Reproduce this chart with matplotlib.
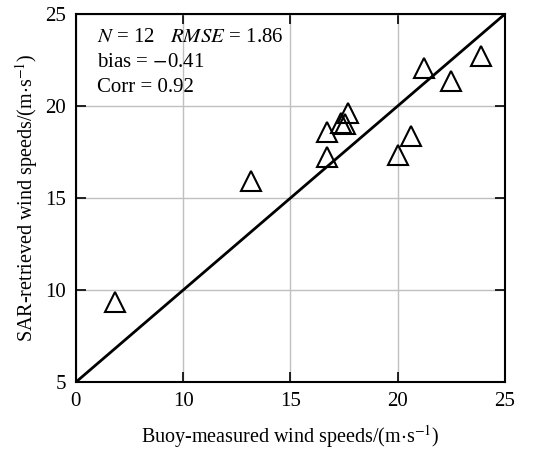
import matplotlib.pyplot as plt

plt.rcParams['font.family'] = ['Liberation Serif', 'DejaVu Serif']
plt.rcParams['mathtext.fontset'] = 'stix'

# buoy vs SAR wind speeds (m/s)
buoy = [6.82, 13.14, 16.69, 16.69, 17.34, 17.54, 17.70, 20.03, 20.60, 21.22, 22.47, 23.87]
sar = [9.33, 15.93, 17.25, 18.57, 19.06, 19.03, 19.60, 17.31, 18.38, 22.05, 21.33, 22.72]

xticks = [5, 10, 15, 20, 25]
xtick_labels = ['0', '10', '15', '20', '25']
yticks = [5, 10, 15, 20, 25]

fig = plt.figure(figsize=(5.46, 4.49), dpi=100)
ax = fig.add_axes([0.139, 0.149, 0.786, 0.82])

ax.plot([5, 25], [5, 25], color='black', linewidth=2, zorder=2)
ax.plot(buoy, sar, linestyle='none', marker='^', markersize=14,
        markerfacecolor='none', markeredgecolor='black', markeredgewidth=1.5, zorder=3)

ax.set_xlim(5, 25)
ax.set_ylim(5, 25)
ax.set_xticks(xticks)
ax.set_xticklabels(xtick_labels)
ax.set_yticks(yticks)
ax.tick_params(direction='in', top=True, right=True, labelsize=15, length=7, width=1.2, pad=7)
ax.grid(True, color='#c0c0c0', linewidth=1)
ax.set_axisbelow(True)
for s in ax.spines.values():
    s.set_linewidth(1.5)

ax.set_xlabel(r'Buoy-measured wind speeds/(m$\cdot$s$^{-1}$)', fontsize=14.5, labelpad=9)
ax.set_ylabel(r'SAR-retrieved wind speeds/(m$\cdot$s$^{-1}$)', fontsize=14.5, labelpad=4)

ax.text(0.05, 0.935, r'$N$ = 12   $RMSE$ = 1.86', transform=ax.transAxes, fontsize=15, va='center')
ax.text(0.05, 0.867, r'bias = $-$0.41', transform=ax.transAxes, fontsize=15, va='center')
ax.text(0.05, 0.799, 'Corr = 0.92', transform=ax.transAxes, fontsize=15, va='center')

fig.savefig('out.png', dpi=100)
